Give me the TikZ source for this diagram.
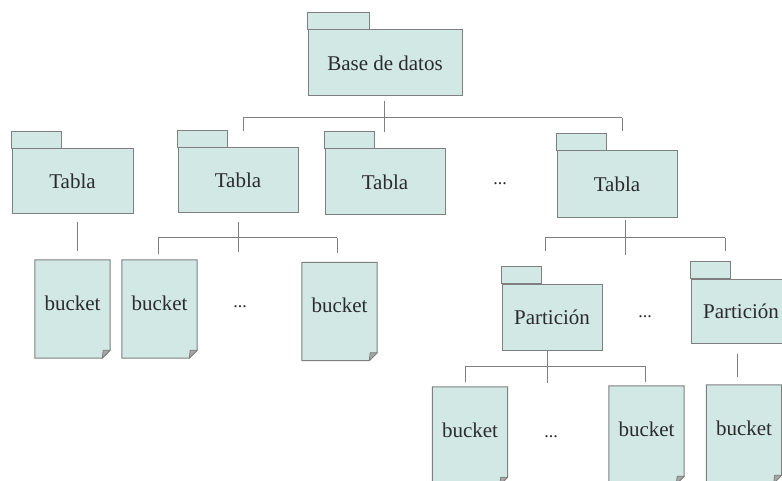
\documentclass[tikz,border=0pt]{standalone}
\usepackage{fontspec}
\setmainfont{Liberation Serif}
\definecolor{boxfill}{HTML}{D1E8E5}
\definecolor{boxline}{HTML}{7F7F7F}
\definecolor{foldfill}{HTML}{A6A6A6}
\definecolor{ink}{HTML}{2B2B2B}
\tikzset{
  x=1pt, y=-1pt,
  pkgbody/.style={draw=boxline, fill=boxfill, line width=1pt, inner sep=0pt,
    font=\fontsize{21}{24}\selectfont, text=ink},
  pkgtab/.style={draw=boxline, fill=boxfill, line width=1pt},
  bucketbox/.style={draw=none, inner sep=0pt, minimum width=75pt, minimum height=98pt},
  bucketlbl/.style={font=\fontsize{21}{24}\selectfont, text=ink},
  conn/.style={draw=boxline, line width=1pt},
  dots/.style={font=\fontsize{18}{20}\selectfont, text=ink}
}
% package: tab sitting on the top-left corner of the body
\newcommand{\pkgnode}[6]{% name, x, y, width, height, text; tab width in \tabw
  \node[pkgbody, minimum width=#4pt, minimum height=#5pt] (#1) at (#2,#3) {#6};
  \draw[pkgtab] (#1.north west) rectangle ++(\tabw,-17);
}
% bucket: sheet with a folded bottom-right corner
\newcommand{\bucketnode}[3]{% name, x, y
  \node[bucketbox] (#1) at (#2,#3) {};
  \fill[boxfill] (#1.north west) -- (#1.north east) -- ([yshift=8pt]#1.south east)
    -- ([xshift=-8pt]#1.south east) -- (#1.south west) -- cycle;
  \draw[boxline, line width=1pt] (#1.north west) -- (#1.north east) -- ([yshift=8pt]#1.south east)
    -- ([xshift=-8pt]#1.south east) -- (#1.south west) -- cycle;
  \draw[boxline, fill=foldfill, line width=0.8pt, line join=round]
    ([xshift=-8pt]#1.south east) -- ([xshift=-7pt,yshift=8pt]#1.south east)
    -- ([yshift=8pt]#1.south east) -- cycle;
  \node[bucketlbl] at ([yshift=6pt]#1.center) {bucket};
}
\newlength{\tabw}
\begin{document}
\begin{tikzpicture}
\useasboundingbox (0,0) rectangle (782,481);
\clip (0,0) rectangle (782,481);
\fill[white] (0,0) rectangle (782,481);

% database
\setlength{\tabw}{62pt}
\pkgnode{base}{385}{63}{154}{66}{Base de datos}

% tables
\setlength{\tabw}{50pt}
\pkgnode{t1}{72.5}{181.5}{121}{65}{Tabla}
\pkgnode{t2}{238}{180.5}{120}{65}{Tabla}
\pkgnode{t3}{385}{182}{120}{66}{Tabla}
\pkgnode{t4}{617}{184.5}{120}{67}{Tabla}
\node[dots] (d1) at (500,184) {...};

% partitions
\setlength{\tabw}{40pt}
\pkgnode{p1}{552}{317}{100}{66}{Partición}
\pkgnode{p2}{741}{311}{100}{64}{Partición}
\node[dots] (d3) at (645,317) {...};

% buckets
\bucketnode{b1}{72.5}{309}
\bucketnode{b2}{159.5}{309}
\bucketnode{b3}{339.5}{311.5}
\node[dots] (d2) at (240,307) {...};
\bucketnode{b4}{470}{436}
\bucketnode{b5}{646.5}{435}
\bucketnode{b6}{744}{434}
\node[dots] (d4) at (551,437) {...};

% database -> tables
\coordinate (topL) at (243,118);
\coordinate (topR) at (622,118);
\draw[conn] ([xshift=-1pt,yshift=-5pt]base.south) -- ([xshift=-1pt,yshift=16pt]base.south |- t3.north);
\draw[conn] (topL) -- (topR);
\draw[conn] (topL) -- ([yshift=16pt]topL |- t2.north);
\draw[conn] (topR) -- ([yshift=19pt]topR |- t4.north);

% table -> bucket
\draw[conn] ([xshift=4.5pt,yshift=-8pt]t1.south) -- ([xshift=4.5pt,yshift=9pt]b1.north);

% table -> buckets
\coordinate (m2L) at (158,238);
\coordinate (m2R) at (337,238);
\draw[conn] ([yshift=-9pt]t2.south) -- ([yshift=8pt]t2.south |- b1.north);
\draw[conn] (m2L) -- (m2R);
\draw[conn] (m2L) -- ([yshift=6pt]m2L |- b2.north);
\draw[conn] (m2R) -- ([yshift=9pt]m2R |- b3.north);

% table -> partitions
\coordinate (m4L) at (545,238);
\coordinate (m4R) at (725,238);
\draw[conn] ([xshift=8pt,yshift=-2pt]t4.south) -- ([xshift=8pt,yshift=5pt]t4.south |- b1.north);
\draw[conn] (m4L) -- (m4R);
\draw[conn] (m4L) -- ([yshift=32pt]m4L |- p1.north);
\draw[conn] (m4R) -- ([yshift=27pt]m4R |- p2.north);

% partitions -> buckets
\coordinate (m5L) at (465,366);
\coordinate (m5R) at (645,366);
\draw[conn] ([xshift=-5pt]p1.south) -- ([xshift=-5pt,yshift=4pt]p1.south |- b4.north);
\draw[conn] (m5L) -- (m5R);
\draw[conn] (m5L) -- ([yshift=5pt]m5L |- b4.north);
\draw[conn] (m5R) -- ([yshift=4pt]m5R |- b5.north);
\draw[conn] ([xshift=-4pt,yshift=-10pt]p2.south) -- ([xshift=-4pt,yshift=8pt]p2.south |- b6.north);
\end{tikzpicture}
\end{document}
